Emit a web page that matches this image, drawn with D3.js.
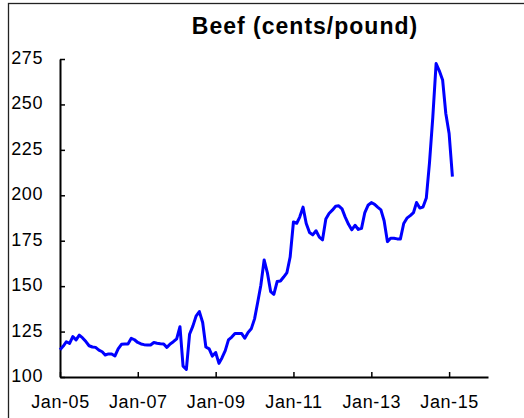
<!DOCTYPE html>
<html>
<head>
<meta charset="utf-8">
<script src="https://cdn.jsdelivr.net/npm/d3@7"></script>
<style>
  body { margin: 0; background: #fff; }
  svg { display: block; font-family: "Liberation Sans", Arial, sans-serif; }
  .tick text { font-size: 18px; fill: #000; letter-spacing: 0.6px; }
</style>
</head>
<body>
<svg></svg>
<script>
// Monthly beef price, cents/pound, starting Jan-05
let startMonth = new Date(2005, 0, 1)
let beef = [
  115, 117, 119.4, 118.5, 122.2, 120.4, 123, 121.5, 119.5, 117.2, 116.5, 116.3,
  114.8, 113.9, 112.1, 112.7, 112.7, 111.6, 115.5, 118, 118.2, 118.2, 121.3, 120.5,
  119, 118.2, 117.8, 117.6, 117.6, 119, 118.6, 118.3, 118.2, 116.3, 118.2, 119.4,
  121, 127.7, 106, 104.2, 123.5, 128, 133.5, 136, 130, 116.5, 115.5, 111.5,
  113.5, 107.5, 110.5, 114.5, 120.4, 122, 124, 124, 124, 121.3, 124.5, 126.5,
  132, 141.5, 150.5, 164.4, 157.5, 147, 145.5, 152.5, 152.8, 155, 157.5, 166,
  185.3, 184.6, 188, 193.5, 184.5, 179.5, 178.2, 180.5, 177, 175.5, 187, 190,
  191.8, 194, 194.2, 192.5, 188, 184, 181, 183.5, 181.2, 181.8, 190.5, 194.5,
  196, 195, 193.5, 192, 186, 174.5, 176.4, 176.4, 176, 176, 184.5, 187.4,
  188.8, 190.5, 196, 193, 193.5, 198.5, 218, 243, 272.5, 268.5, 263.5, 245,
  234, 210.3
]
let yTicks = [100, 125, 150, 175, 200, 225, 250, 275]
let xTickYears = [2005, 2007, 2009, 2011, 2013, 2015]
let xTickLabels = ['Jan-05', 'Jan-07', 'Jan-09', 'Jan-11', 'Jan-13', 'Jan-15']

let dataset = beef.map((v, i) => ({ date: d3.timeMonth.offset(startMonth, i), value: v }))

let width = 524
let height = 418
let margin = { left: 60, right: 36, top: 59, bottom: 41 }

let scale = {
  x: d3.scaleTime()
    .domain([new Date(2005, 0, 1), new Date(2016, 0, 1)])
    .range([margin.left, width - margin.right]),
  y: d3.scaleLinear()
    .domain([100, 275])
    .range([height - margin.bottom, margin.top])
}

let svg = d3.select('svg')
  .attr('width', width)
  .attr('height', height)

// Frame
svg.append('rect')
  .attr('x', 8.5)
  .attr('y', 3.5)
  .attr('width', 700)
  .attr('height', 700)
  .attr('fill', 'none')
  .attr('stroke', '#222')
  .attr('stroke-width', 1.3)

// Title
svg.append('text')
  .attr('x', 305)
  .attr('y', 34)
  .attr('text-anchor', 'middle')
  .style('font-size', '23px')
  .style('font-weight', 'bold')
  .style('letter-spacing', '1px')
  .text('Beef (cents/pound)')

// Y axis
let yAxis = svg.append('g')
  .attr('transform', `translate(${margin.left},0)`)
  .call(d3.axisLeft(scale.y)
    .tickValues(yTicks)
    .tickSizeInner(-5)
    .tickSizeOuter(0)
    .tickPadding(17))
yAxis.selectAll('text').attr('dy', '0.25em')

// X axis
let xAxis = svg.append('g')
  .attr('transform', `translate(0,${height - margin.bottom})`)
  .call(d3.axisBottom(scale.x)
    .tickValues(xTickYears.map(y => new Date(y, 0, 1)))
    .tickFormat((d, i) => xTickLabels[i])
    .tickSizeInner(-5)
    .tickSizeOuter(0)
    .tickPadding(18))

svg.selectAll('.domain').attr('stroke', '#000').attr('stroke-width', 2)
svg.selectAll('.tick line').attr('stroke', '#000').attr('stroke-width', 1.5)

// Line
let line = d3.line()
  .x(d => scale.x(d.date))
  .y(d => scale.y(d.value))

svg.append('path')
  .datum(dataset)
  .attr('d', line)
  .attr('fill', 'none')
  .attr('stroke', '#0000ff')
  .attr('stroke-width', 3)
  .attr('stroke-linejoin', 'round')
</script>
</body>
</html>
